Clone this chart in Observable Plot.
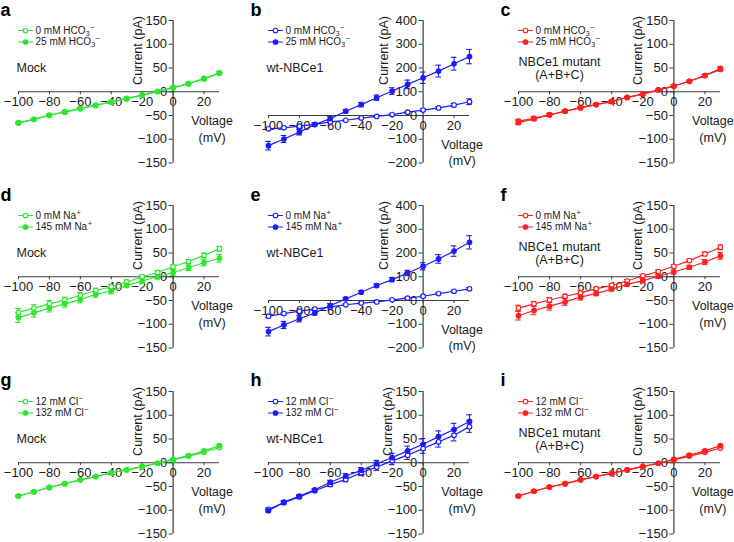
<!DOCTYPE html>
<html><head><meta charset="utf-8">
<script src="https://cdn.jsdelivr.net/npm/d3@7"></script>
<script src="https://cdn.jsdelivr.net/npm/@observablehq/plot@0.6"></script>
<style>
body{margin:0;background:#fff}
#root{position:relative;width:734px;height:542px;overflow:hidden;font-family:"Liberation Sans",Arial,sans-serif}
#root svg{position:absolute}
</style></head>
<body><div id="root"></div>
<script>
// ---------- data ----------
const voltages = [-100,-90,-80,-70,-60,-50,-40,-30,-20,-10,0,10,20,30];
const xTicks = [-100,-80,-60,-40,-20,0,20];
const yTicksSmall = [-150,-100,-50,0,50,100,150];
const yTicksLarge = [-200,-100,0,100,200,300,400];
const panelLetters = ["a","b","c","d","e","f","g","h","i"];
const cellLabels = ["Mock","wt-NBCe1","NBCe1 mutant\n(A+B+C)"];
const cellColors = ["#2ee62e","#1c1cff","#ff2020"];
// legend entries: [base text, subscript, superscript]
const legendHCO3 = [["0 mM HCO","3","\u2212"],["25 mM HCO","3","\u2212"]];
const legendNa = [["0 mM Na","","+"],["145 mM Na","","+"]];
const legendCl = [["12 mM Cl","","\u2212"],["132 mM Cl","","\u2212"]];
const axisTitleY = "Current (pA)";
const axisTitleX = "Voltage\n(mV)";

// a: Mock, HCO3
const a0 = [-65,-58,-50,-42,-35,-28,-22,-14,-7,1,9,17,28,40];
const a0Err = [2,2,2,2,2,1,1,1,1,1,1,2,2,3];
const a1 = [-66,-58,-49,-43,-36,-29,-21,-15,-7,0,8,17,27,39];
const a1Err = [2,2,2,2,2,1,1,1,1,1,1,2,2,3];
// b: wt-NBCe1, HCO3
const b0 = [-56,-52,-45,-37,-27,-20,-11,-4,4,14,23,32,44,58];
const b0Err = [5,4,4,4,3,3,3,3,3,4,5,5,7,12];
const b1 = [-127,-99,-70,-38,-13,18,46,75,103,131,159,187,218,248];
const b1Err = [18,15,12,8,8,7,9,11,14,18,24,25,27,30];
// c: mutant, HCO3
const c0 = [-65,-57,-49,-41,-34,-27,-21,-12,-5,4,12,22,34,47];
const c0Err = [4,3,3,2,2,2,2,2,1,1,2,2,2,3];
const c1 = [-62,-56,-48,-41,-33,-27,-20,-12,-5,4,12,22,34,49];
const c1Err = [4,4,3,2,2,2,2,2,1,1,2,2,3,4];
// d: Mock, Na
const d0 = [-75,-66,-57,-49,-39,-29,-21,-11,0,9,21,32,45,59];
const d0Err = [8,7,7,6,6,5,5,4,4,4,4,4,5,5];
const d1 = [-86,-76,-66,-57,-48,-37,-30,-18,-9,0,9,19,30,39];
const d1Err = [10,9,8,7,7,6,6,5,5,5,6,6,7,8];
// e: wt-NBCe1, Na
const e0 = [-66,-55,-45,-36,-27,-18,-11,-6,3,10,18,29,39,49];
const e0Err = [6,5,4,4,4,3,3,3,3,3,3,4,4,5];
const e1 = [-131,-103,-77,-52,-21,7,35,63,88,116,144,175,208,245];
const e1Err = [18,15,13,10,8,6,6,7,9,11,15,18,22,28];
// f: mutant, Na
const f0 = [-66,-57,-49,-41,-34,-25,-18,-9,2,11,22,34,48,62];
const f0Err = [6,5,5,4,4,3,3,3,3,3,3,3,4,5];
const f1 = [-82,-71,-62,-53,-43,-35,-26,-16,-8,1,10,20,31,44];
const f1Err = [9,9,8,7,6,5,4,4,4,4,4,4,5,7];
// g: Mock, Cl
const g0 = [-70,-61,-52,-44,-36,-29,-21,-15,-8,-1,6,14,22,32];
const g0Err = [2,2,2,1,1,1,1,1,1,1,1,2,2,2];
const g1 = [-70,-61,-52,-44,-36,-29,-21,-15,-8,-1,7,15,25,36];
const g1Err = [2,2,2,1,1,1,1,1,1,1,1,2,2,2];
// h: wt-NBCe1, Cl
const h0 = [-98,-84,-72,-59,-46,-35,-21,-9,4,16,30,44,58,76];
const h0Err = [3,3,3,3,4,5,6,7,8,9,10,11,12,12];
const h1 = [-101,-83,-70,-57,-41,-28,-16,-2,11,25,39,55,70,87];
const h1Err = [3,3,3,3,4,5,6,7,9,10,12,12,13,14];
// i: mutant, Cl
const i0 = [-70,-60,-51,-44,-36,-29,-23,-15,-8,-1,6,14,22,31];
const i0Err = [2,2,2,1,1,1,1,1,1,1,1,2,2,2];
const i1 = [-70,-60,-51,-44,-36,-29,-22,-15,-8,-1,7,16,25,36];
const i1Err = [2,2,2,1,1,1,1,1,1,1,1,2,2,2];

// ---------- layout ----------
const series = [
  [a0,a0Err,a1,a1Err],[b0,b0Err,b1,b1Err],[c0,c0Err,c1,c1Err],
  [d0,d0Err,d1,d1Err],[e0,e0Err,e1,e1Err],[f0,f0Err,f1,f1Err],
  [g0,g0Err,g1,g1Err],[h0,h0Err,h1,h1Err],[i0,i0Err,i1,i1Err]
];
const rowLegends = [legendHCO3, legendNa, legendCl];
const colLeft = [0, 250, 500];
const colWidth = [245, 245, 234];
const colMarginRight = [26, 26, 14];
const rowTop = [0, 185, 371];
const rowHeight = [185, 185, 171];
const letterDy = [-5, -5, -6];
const axisColor = "#3c3c3c";
const textColor = "#1a1a1a";
const fontFamily = "'Liberation Sans', Arial, sans-serif";
const fmt = d3.format("");
const lineShape = {draw(ctx, l) { ctx.moveTo(0, 0); ctx.lineTo(0, -l); }};
const measureCtx = document.createElement("canvas").getContext("2d");
function textWidth(t, size) { measureCtx.font = `${size}px ${fontFamily}`; return measureCtx.measureText(t).width; }

const root = document.getElementById("root");

for (let p = 0; p < 9; p++) {
  const row = Math.floor(p / 3), col = p % 3;
  const color = cellColors[col];
  const [s0, e0_, s1, e1_] = series[p];
  const large = col === 1 && row < 2;
  const yTicks = large ? yTicksLarge : yTicksSmall;
  const rows = [];
  voltages.forEach((v, k) => rows.push({v, I: s0[k], e: e0_[k], s: 0}));
  voltages.forEach((v, k) => rows.push({v, I: s1[k], e: e1_[k], s: 1}));
  const legend = rowLegends[row];

  const legendMarks = [0, 1].flatMap(j => {
    const dy = j === 0 ? 10 : 21.5;
    const [base, sub, sup] = legend[j];
    const wBase = textWidth(base, 10);
    const wSub = sub ? textWidth(sub, 7) : 0;
    return [
      Plot.vector([0], {frameAnchor: "top-left", dy, length: 14, rotate: 90, anchor: "start", shape: lineShape, stroke: color, strokeWidth: 1.2}),
      Plot.dot([0], {frameAnchor: "top-left", dx: 7, dy, r: 2.3, stroke: color, fill: j === 0 ? "white" : color, strokeWidth: 1.1}),
      Plot.text([base], {frameAnchor: "top-left", dx: 17, dy, text: d => d, textAnchor: "start", lineAnchor: "middle", fontSize: 10, fill: textColor}),
      sub ? Plot.text([sub], {frameAnchor: "top-left", dx: 17 + wBase + 0.3, dy: dy + 3, text: d => d, textAnchor: "start", lineAnchor: "middle", fontSize: 7, fill: textColor}) : null,
      Plot.text([sup], {frameAnchor: "top-left", dx: 17 + wBase + wSub + 0.5, dy: dy - 3, text: d => d, textAnchor: "start", lineAnchor: "middle", fontSize: 7.5, fill: textColor})
    ];
  });

  const cellMark = col === 2
    ? Plot.text([cellLabels[col]], {frameAnchor: "top-left", dx: 41, dy: 47.5, text: d => d, textAnchor: "middle", lineAnchor: "middle", lineHeight: 1.07, fill: textColor})
    : Plot.text([cellLabels[col]], {frameAnchor: "top-left", dx: -2, dy: 47.5, text: d => d, textAnchor: "start", lineAnchor: "middle", fill: textColor});

  const svg = Plot.plot({
    width: colWidth[col],
    height: rowHeight[row],
    marginLeft: 18,
    marginRight: colMarginRight[col],
    marginTop: 20,
    marginBottom: rowHeight[row] - 162.5,
    x: {domain: [-100, 30], axis: null},
    y: {domain: large ? [-200, 400] : [-150, 150], axis: null},
    style: {fontFamily, fontSize: "12.5px", background: "transparent", overflow: "visible", color: textColor},
    marks: [
      // axes through the origin
      Plot.ruleY([0], {stroke: axisColor, strokeWidth: 1.2}),
      Plot.ruleX([0], {stroke: axisColor, strokeWidth: 1.2}),
      Plot.ruleY(yTicks, {x1: 0, x2: 0, insetLeft: -4, stroke: axisColor, strokeWidth: 1}),
      Plot.ruleX(xTicks, {y1: 0, y2: 0, insetBottom: -3, stroke: axisColor, strokeWidth: 1}),
      Plot.text(yTicks, {x: 0, y: d => d, text: d => fmt(d), textAnchor: "end", dx: -6, fontSize: 13, fill: textColor}),
      Plot.text(xTicks, {x: d => d, y: 0, text: d => fmt(d), dy: 10.5, fontSize: 13, fill: textColor}),
      Plot.text([axisTitleY], {x: 0, frameAnchor: "top", dy: 30, dx: large ? -39 : -35.5, rotate: -90, text: d => d, textAnchor: "middle", lineAnchor: "middle", fill: textColor}),
      Plot.text([axisTitleX], {x: 0, y: 0, dx: 39, dy: 36.5, text: d => d, lineHeight: 1.3, textAnchor: "middle", lineAnchor: "middle", fill: textColor}),
      // error bars
      Plot.ruleX(rows, {x: "v", y1: d => d.I - d.e, y2: d => d.I + d.e, stroke: color, strokeWidth: 1.1}),
      Plot.ruleY(rows, {y: d => d.I + d.e, x1: "v", x2: "v", insetLeft: -2.8, insetRight: -2.8, stroke: color, strokeWidth: 1.1}),
      Plot.ruleY(rows, {y: d => d.I - d.e, x1: "v", x2: "v", insetLeft: -2.8, insetRight: -2.8, stroke: color, strokeWidth: 1.1}),
      // lines and markers
      Plot.line(rows, {x: "v", y: "I", z: "s", stroke: color, strokeWidth: 1.2}),
      Plot.dot(rows.filter(d => d.s === 0), {x: "v", y: "I", r: 2.3, stroke: color, fill: "white", strokeWidth: 1.1}),
      Plot.dot(rows.filter(d => d.s === 1), {x: "v", y: "I", r: 2.3, stroke: color, fill: color, strokeWidth: 1.1}),
      // legend, cell label, panel letter
      ...legendMarks.filter(Boolean),
      cellMark,
      Plot.text([panelLetters[p]], {frameAnchor: "top-left", dx: -18, dy: letterDy[row], text: d => d, textAnchor: "start", lineAnchor: "bottom", fontSize: 18, fontWeight: "bold", fill: "#000"})
    ]
  });
  svg.style.left = colLeft[col] + "px";
  svg.style.top = rowTop[row] + "px";
  root.appendChild(svg);
}
</script>
</body></html>
